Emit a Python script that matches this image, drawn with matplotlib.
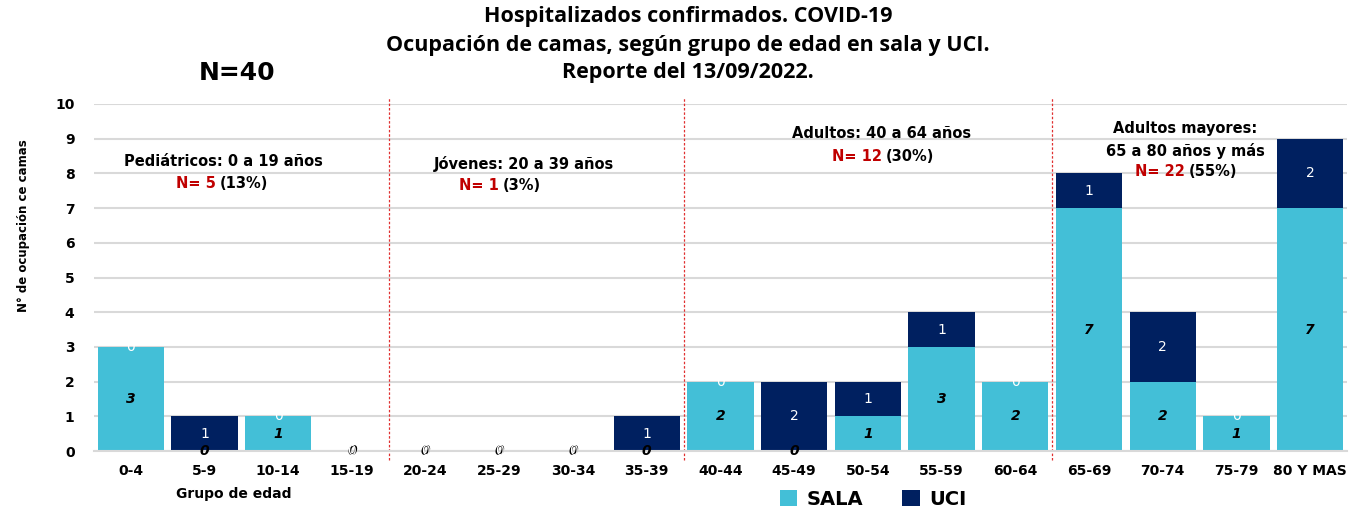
import matplotlib.pyplot as plt

grupos = ["0-4", "5-9", "10-14", "15-19", "20-24", "25-29", "30-34", "35-39",
          "40-44", "45-49", "50-54", "55-59", "60-64", "65-69", "70-74", "75-79", "80 Y MAS"]
sala = [3, 0, 1, 0, 0, 0, 0, 0, 2, 0, 1, 3, 2, 7, 2, 1, 7]
uci = [0, 1, 0, 0, 0, 0, 0, 1, 0, 2, 1, 1, 0, 1, 2, 0, 2]
cortes = [3.5, 7.5, 12.5]

c_sala = "#43BFD7"
c_uci = "#002060"
rojo = "#C00000"

plt.rcParams['font.family'] = ['DejaVu Sans']

fig = plt.figure(figsize=(13.54, 5.12), dpi=100)
ax = fig.add_axes([0.0694, 0.119, 0.9254, 0.678])

x = list(range(len(grupos)))
b1 = ax.bar(x, sala, width=0.9, color=c_sala, label="SALA", zorder=2)
b2 = ax.bar(x, uci, width=0.9, bottom=sala, color=c_uci, label="UCI", zorder=2)

# etiquetas de valores
for i in x:
    s, u = sala[i], uci[i]
    if s > 0:
        ax.text(i, s / 2, str(s), ha="center", va="center", fontsize=10,
                fontweight="bold", fontstyle="italic", color="black", zorder=3)
    else:
        ax.text(i, 0, "0", ha="center", va="center", fontsize=10,
                fontweight="bold", fontstyle="italic", color="black", zorder=3)
    if u > 0:
        ax.text(i, s + u / 2, str(u), ha="center", va="center", fontsize=10,
                color="white", zorder=3)
    else:
        ax.text(i, s, "0", ha="center", va="center", fontsize=10,
                color="white", zorder=4)

for c in cortes:
    ax.plot([c, c], [-0.25, 10.2], color="#E03030", linestyle=(0, (2, 1.5)),
            linewidth=0.9, clip_on=False, zorder=1)

ax.set_xlim(-0.5, len(grupos) - 0.5)
ax.set_ylim(0, 10)
ax.set_yticks(range(0, 11))
ax.grid(axis="y", color="#D9D9D9", linewidth=1.5, zorder=0)
ax.set_axisbelow(True)
for sp in ["top", "right", "left"]:
    ax.spines[sp].set_visible(False)
ax.spines["bottom"].set_color("#D9D9D9")
ax.spines["bottom"].set_linewidth(1.5)
ax.tick_params(length=0)
ax.tick_params(axis="y", pad=14)
ax.tick_params(axis="x", pad=9)
ax.set_xticks(x)
ax.set_xticklabels(grupos, fontsize=10, fontweight="bold")
for t in ax.get_yticklabels():
    t.set_fontsize(10)
    t.set_fontweight("bold")

fig.text(0.017, 0.56, "N° de ocupación ce camas", rotation=90, ha="center", va="center",
         fontsize=8.5, fontweight="bold")
ax.text(1.4, -1.25, "Grupo de edad", ha="center", va="center", fontsize=10, fontweight="bold")

# anotaciones por grupo
fs = 10.5
def etiqueta(xc, y, n, pct):
    ax.text(xc, y, "N= %d" % n, ha="right", va="center", color=rojo, fontsize=fs, fontweight="bold")
    ax.text(xc + 0.05, y, "(%s)" % pct, ha="left", va="center", color="black", fontsize=fs, fontweight="bold")

ax.text(1.25, 8.33, "Pediátricos: 0 a 19 años", ha="center", va="center", fontsize=fs, fontweight="bold")
etiqueta(1.15, 7.72, 5, "13%")
ax.text(5.33, 8.27, "Jóvenes: 20 a 39 años", ha="center", va="center", fontsize=fs, fontweight="bold")
etiqueta(4.99, 7.64, 1, "3%")
ax.text(10.19, 9.14, "Adultos: 40 a 64 años", ha="center", va="center", fontsize=fs, fontweight="bold")
etiqueta(10.19, 8.5, 12, "30%")
ax.text(14.31, 9.28, "Adultos mayores:", ha="center", va="center", fontsize=fs, fontweight="bold")
ax.text(14.31, 8.65, "65 a 80 años y más", ha="center", va="center", fontsize=fs, fontweight="bold")
etiqueta(14.3, 8.04, 22, "55%")

tf = ["Open Sans", "DejaVu Sans"]
fig.text(0.508, 0.968, "Hospitalizados confirmados. COVID-19", ha="center", va="center",
         fontsize=15.5, fontweight="bold", family=tf)
fig.text(0.508, 0.912, "Ocupación de camas, según grupo de edad en sala y UCI.", ha="center", va="center",
         fontsize=15.5, fontweight="bold", family=tf)
fig.text(0.508, 0.859, "Reporte del 13/09/2022.", ha="center", va="center",
         fontsize=15.5, fontweight="bold", family=tf)
fig.text(0.175, 0.857, "N=40", ha="center", va="center", fontsize=18, fontweight="bold")

fig.legend(handles=[b1, b2], loc="center", bbox_to_anchor=(0.645, 0.025), ncol=2,
           frameon=False, prop={"size": 14, "weight": "bold"}, handlelength=0.9,
           handleheight=0.9, columnspacing=2.0, handletextpad=0.5)

fig.savefig("out.png", dpi=100)
